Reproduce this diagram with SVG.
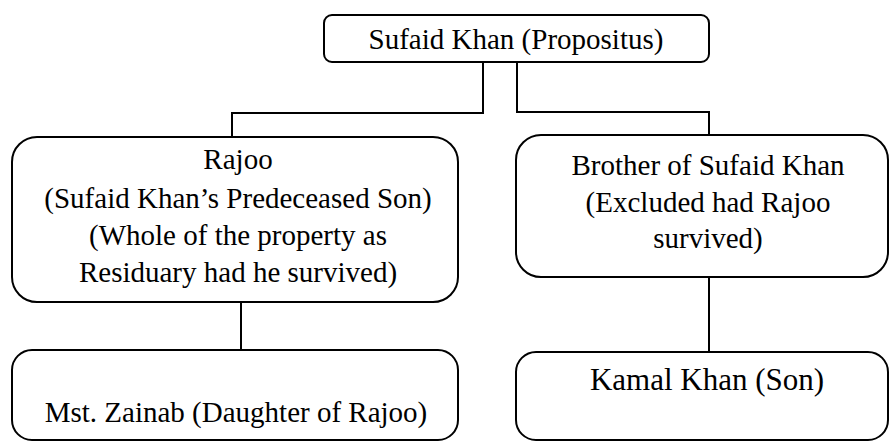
<svg xmlns="http://www.w3.org/2000/svg" width="890" height="443" viewBox="0 0 890 443">
<style>
.box{fill:#fff;stroke:#000;stroke-width:2}
.t{font-size:29px;fill:#000;text-anchor:middle}
.c{fill:none;stroke:#000;stroke-width:2}
</style>
<rect width="890" height="443" fill="#fff"/>
<g id="connectors">
<polyline class="c" points="483,62 483,113 232,113 232,138"/>
<polyline class="c" points="517,62 517,112 709,112 709,135"/>
<line class="c" x1="241" y1="302" x2="241" y2="350"/>
<line class="c" x1="709" y1="277" x2="709" y2="352"/>
</g>
<g font-family="Liberation Serif, Tinos, DejaVu Serif, serif">
<g id="propositus">
<rect class="box" x="324" y="15" width="385" height="47" rx="8"/>
<text class="t" x="516" y="49">Sufaid Khan (Propositus)</text>
</g>
<g id="rajoo">
<rect class="box" x="12" y="137" width="446" height="165" rx="25"/>
<text class="t" x="238" y="169">Rajoo</text>
<text class="t" x="238" y="208">(Sufaid Khan’s Predeceased Son)</text>
<text class="t" x="238" y="245">(Whole of the property as</text>
<text class="t" x="238" y="282">Residuary had he survived)</text>
</g>
<g id="brother">
<rect class="box" x="516" y="135" width="372" height="142" rx="25"/>
<text class="t" x="708" y="175">Brother of Sufaid Khan</text>
<text class="t" x="708" y="212">(Excluded had Rajoo</text>
<text class="t" x="708" y="248">survived)</text>
</g>
<g id="zainab">
<rect class="box" x="12" y="350" width="446" height="90" rx="20"/>
<text class="t" x="236" y="422">Mst. Zainab (Daughter of Rajoo)</text>
</g>
<g id="kamal">
<rect class="box" x="516" y="352" width="372" height="88" rx="20"/>
<text class="t" x="707" y="390" style="font-size:31px">Kamal Khan (Son)</text>
</g>
</g>
</svg>
